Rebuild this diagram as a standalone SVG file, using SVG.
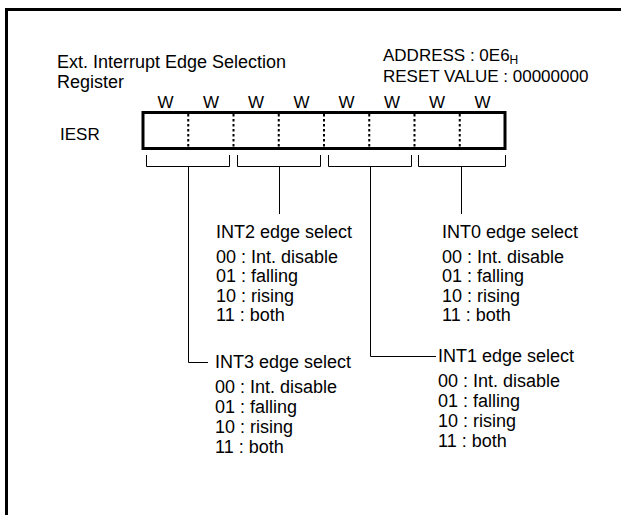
<svg xmlns="http://www.w3.org/2000/svg" width="621" height="515" viewBox="0 0 621 515">
<style>
text{font-family:"Liberation Sans",Arial,sans-serif;fill:#000}
.h{font-size:17px}
.t{font-size:18px}
.d{font-size:18px}
.w{font-size:17px;text-anchor:middle}
.ln{stroke:#000;stroke-width:1;fill:none}
.dot{stroke:#000;stroke-width:2;stroke-dasharray:2.5,2.5}
</style>
<rect width="621" height="515" fill="#fff"/>
<path d="M6.5,515 V9.5 H621" fill="none" stroke="#000" stroke-width="3"/>
<g id="title">
<text class="t" x="57" y="68">Ext. Interrupt Edge Selection</text>
<text class="t" x="57" y="88">Register</text>
</g>
<g id="address">
<text class="h" x="383" y="61">ADDRESS : 0E6<tspan font-size="12" dy="3">H</tspan></text>
<text class="h" x="383" y="82">RESET VALUE : 00000000</text>
</g>
<g id="bits">
<text class="w" x="165.6" y="108">W</text>
<text class="w" x="210.9" y="108">W</text>
<text class="w" x="256.1" y="108">W</text>
<text class="w" x="301.4" y="108">W</text>
<text class="w" x="346.6" y="108">W</text>
<text class="w" x="391.9" y="108">W</text>
<text class="w" x="437.1" y="108">W</text>
<text class="w" x="482.4" y="108">W</text>
</g>
<g id="iesr">
<text class="h" x="60" y="140">IESR</text>
<rect x="143" y="112.5" width="362" height="36" fill="none" stroke="#000" stroke-width="3"/>
<line class="dot" x1="188.25" y1="114" x2="188.25" y2="147"/>
<line class="dot" x1="233.5" y1="114" x2="233.5" y2="147"/>
<line class="dot" x1="278.75" y1="114" x2="278.75" y2="147"/>
<line class="dot" x1="324" y1="114" x2="324" y2="147"/>
<line class="dot" x1="369.25" y1="114" x2="369.25" y2="147"/>
<line class="dot" x1="414.5" y1="114" x2="414.5" y2="147"/>
<line class="dot" x1="459.75" y1="114" x2="459.75" y2="147"/>
</g>
<g id="connectors">
<path class="ln" d="M146.5,155 V166.5 H229.5 V155"/>
<path class="ln" d="M237.5,155 V166.5 H320.5 V155"/>
<path class="ln" d="M328.5,155 V166.5 H411.5 V155"/>
<path class="ln" d="M418.5,155 V166.5 H505.5 V155"/>
<path class="ln" d="M188.5,166.5 V362.5 H208"/>
<path class="ln" d="M279.5,166.5 V214"/>
<path class="ln" d="M370.5,166.5 V356.5 H436"/>
<path class="ln" d="M461.5,166.5 V214"/>
</g>
<g id="int2">
<text class="d" x="216" y="238">INT2 edge select</text>
<text class="d" x="216" y="263">00 : Int. disable</text>
<text class="d" x="216" y="282">01 : falling</text>
<text class="d" x="216" y="302">10 : rising</text>
<text class="d" x="216" y="321">11 : both</text>
</g>
<g id="int0">
<text class="d" x="442" y="238">INT0 edge select</text>
<text class="d" x="442" y="263">00 : Int. disable</text>
<text class="d" x="442" y="282">01 : falling</text>
<text class="d" x="442" y="302">10 : rising</text>
<text class="d" x="442" y="321">11 : both</text>
</g>
<g id="int3">
<text class="d" x="215" y="368">INT3 edge select</text>
<text class="d" x="215" y="393">00 : Int. disable</text>
<text class="d" x="215" y="413">01 : falling</text>
<text class="d" x="215" y="433">10 : rising</text>
<text class="d" x="215" y="453">11 : both</text>
</g>
<g id="int1">
<text class="d" x="438" y="362">INT1 edge select</text>
<text class="d" x="438" y="387">00 : Int. disable</text>
<text class="d" x="438" y="407">01 : falling</text>
<text class="d" x="438" y="427">10 : rising</text>
<text class="d" x="438" y="447">11 : both</text>
</g>
</svg>
